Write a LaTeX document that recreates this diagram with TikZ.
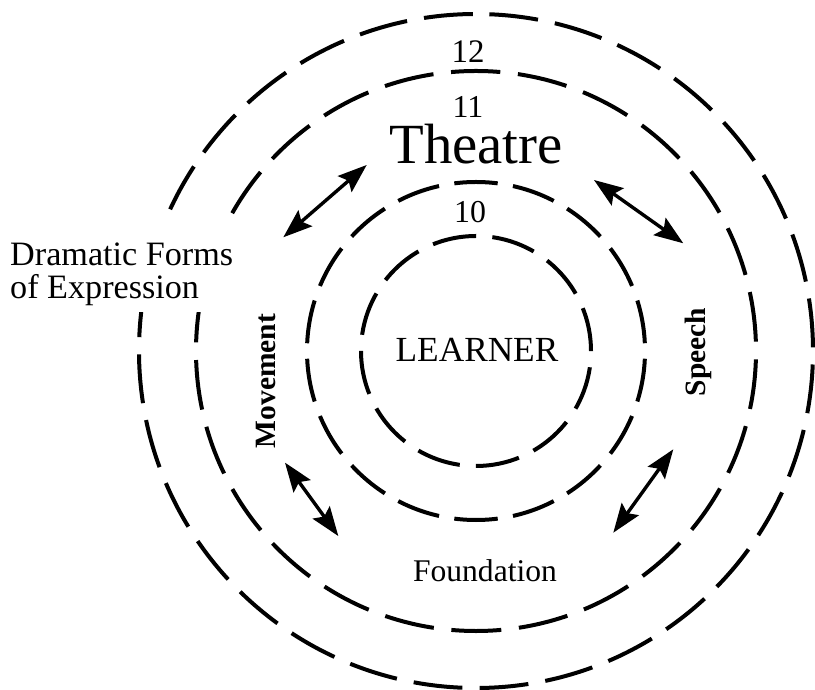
\documentclass[tikz,border=0pt]{standalone}
\usepackage{fontspec}
\setmainfont{Liberation Serif}
\usetikzlibrary{arrows.meta}
\begin{document}
\begin{tikzpicture}[x=1bp,y=1bp,
  ring/.style={line width=4bp},
  dbl/.style={line width=3.4bp, {Stealth[length=29bp,width=21bp,inset=5bp]}-{Stealth[length=29bp,width=21bp,inset=5bp]}},
  lbl/.style={inner sep=0pt},
  bld/.style={inner sep=0pt, font=\fontsize{29.6}{32}\selectfont\bfseries, rotate=90}]
\useasboundingbox (0,0) rectangle (815,690);
\clip (0,0) rectangle (815,690);
\coordinate (c) at (476,339);
% rings
\draw[ring, dash pattern=on 44bp off 16.2bp, dash phase=0bp]
  ([shift={(0,115)}]c) arc[start angle=90, end angle=450, radius=115bp];
\draw[ring, dash pattern=on 43.5bp off 15.5bp, dash phase=21.75bp]
  ([shift={(0,169)}]c) arc[start angle=90, end angle=450, radius=169bp];
\draw[ring, dash pattern=on 50bp off 17.7bp, dash phase=25bp]
  ([shift={(0,280)}]c) arc[start angle=90, end angle=450, radius=280bp];
\draw[ring, dash pattern=on 49bp off 17.2bp, dash phase=63bp]
  ([shift={(0,337)}]c) arc[start angle=90, end angle=450, radius=337bp];
% white ground behind the side caption
\fill[white] (0,378) rectangle (242,468);
% labels
\node[lbl, font=\fontsize{33}{36}\selectfont] (n12) at (468,638.5) {12};
\node[lbl, font=\fontsize{32}{36}\selectfont] (n11) at (468,583) {11};
\node[lbl, anchor=base, font=\fontsize{57}{62}\selectfont] (theatre) at (476,526) {Theatre};
\node[lbl, font=\fontsize{32}{36}\selectfont] (n10) at (470,478) {10};
\node[lbl, anchor=base, font=\fontsize{35.4}{38}\selectfont] (learner) at (477,328) {LEARNER};
\node[lbl, anchor=base, font=\fontsize{31.7}{34}\selectfont] (found) at (485,108) {Foundation};
\node[lbl, anchor=north west, align=left, font=\fontsize{34.3}{33}\selectfont] (dram) at (10,447) {Dramatic Forms\\of Expression};
\node[bld] (move) at (266,309) {Movement};
\node[bld] (speech) at (698,338) {Speech};
% arrows
\coordinate (a1s) at (366.7,525);   \coordinate (a1e) at (283.3,452.7);
\coordinate (a2s) at (594,510);     \coordinate (a2e) at (683.3,446.7);
\coordinate (a3s) at (285,227.3);   \coordinate (a3e) at (338.3,154);
\coordinate (a4s) at (673.3,240.7); \coordinate (a4e) at (613.3,157.3);
\draw[dbl] (a1s) -- (a1e);
\draw[dbl] (a2s) -- (a2e);
\draw[dbl] (a3s) -- (a3e);
\draw[dbl] (a4s) -- (a4e);
\end{tikzpicture}
\end{document}
